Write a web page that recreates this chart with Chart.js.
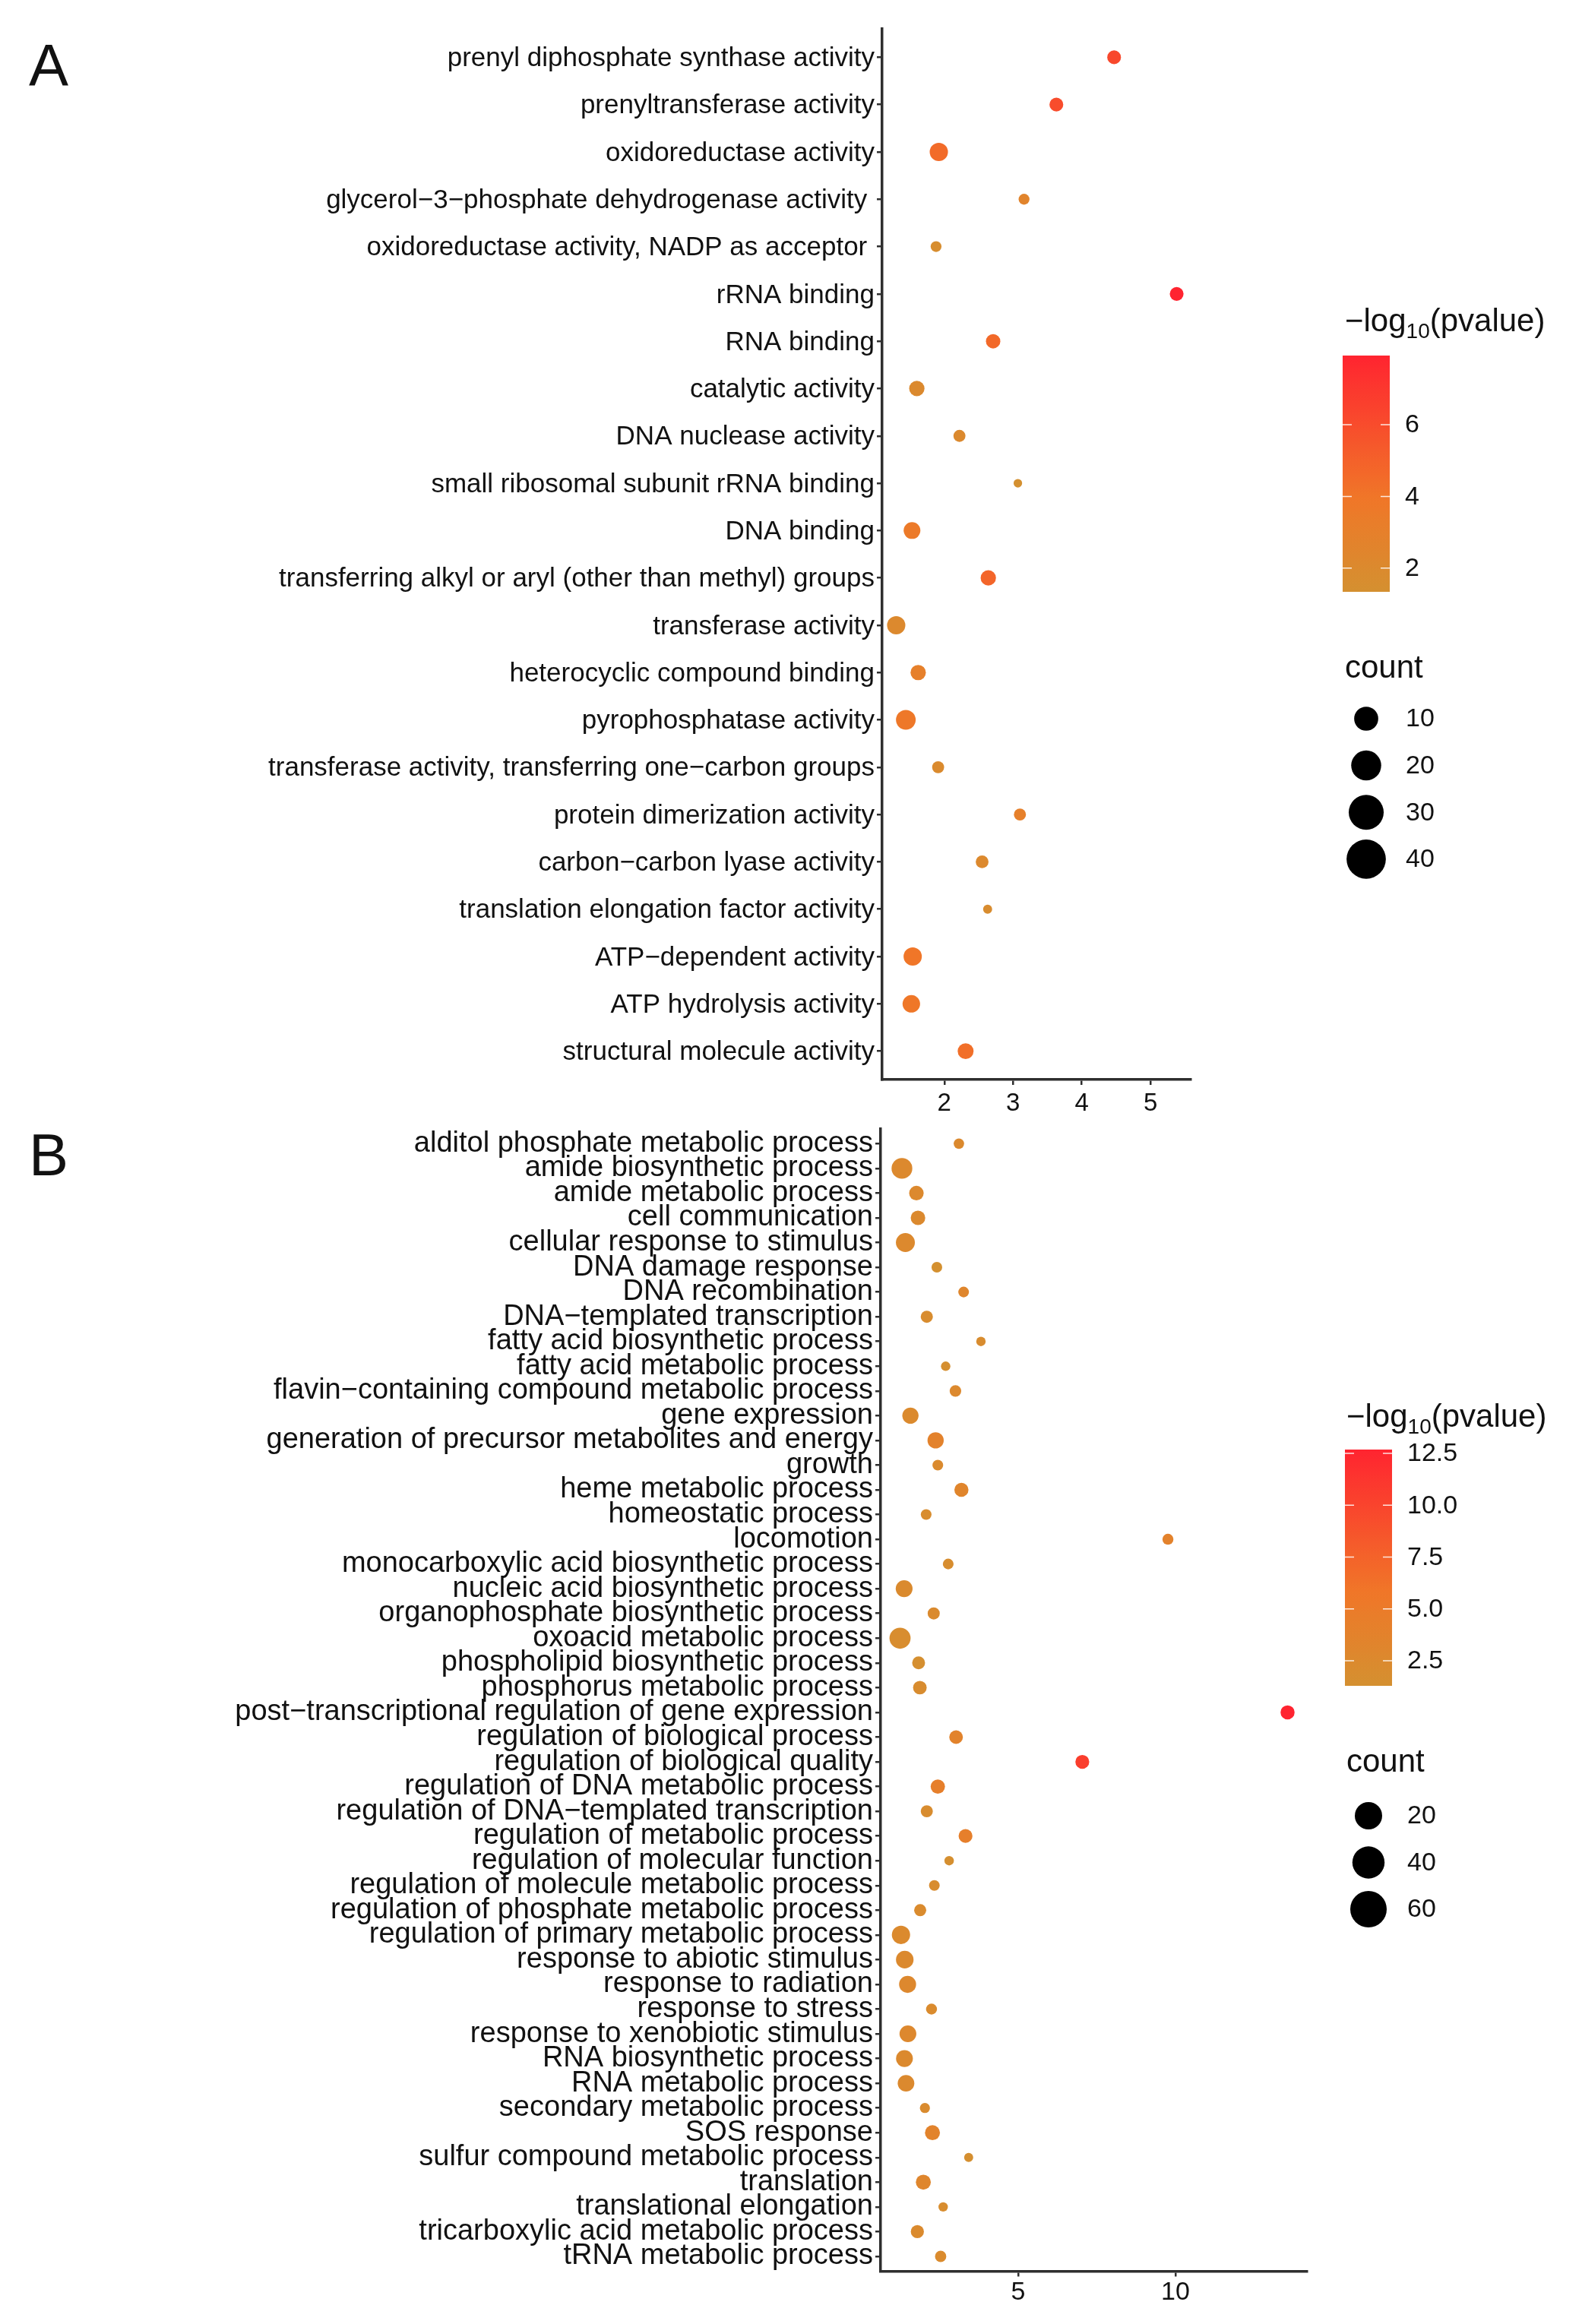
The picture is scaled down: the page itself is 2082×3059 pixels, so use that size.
<!DOCTYPE html>
<html>
<head>
<meta charset="utf-8">
<script src="https://cdn.jsdelivr.net/npm/chart.js@4.4.1/dist/chart.umd.min.js"></script>
<style>
  html, body { margin: 0; padding: 0; background: #fff; }
  #page { position: relative; width: 2082px; height: 3059px; overflow: hidden; }
  canvas { position: absolute; left: 0; }
  .tag { position: absolute; left: 38px; font-family: "Liberation Sans", Arial, sans-serif;
         font-size: 78px; font-weight: 300; line-height: 1; color: #111; }
</style>
</head>
<body>
<div id="page">
  <canvas id="chartA" width="2082" height="1475" style="top:0px"></canvas>
  <canvas id="chartB" width="2082" height="1599" style="top:1460px"></canvas>
  <div class="tag" style="top:47px">A</div>
  <div class="tag" style="top:1481px">B</div>
</div>
<script>
// ---- panel A : molecular function terms ----
const labelsA = [
  "prenyl diphosphate synthase activity",
  "prenyltransferase activity",
  "oxidoreductase activity",
  "glycerol\u22123\u2212phosphate dehydrogenase activity ",
  "oxidoreductase activity, NADP as acceptor ",
  "rRNA binding",
  "RNA binding",
  "catalytic activity",
  "DNA nuclease activity",
  "small ribosomal subunit rRNA binding",
  "DNA binding",
  "transferring alkyl or aryl (other than methyl) groups",
  "transferase activity",
  "heterocyclic compound binding",
  "pyrophosphatase activity",
  "transferase activity, transferring one\u2212carbon groups",
  "protein dimerization activity",
  "carbon\u2212carbon lyase activity",
  "translation elongation factor activity",
  "ATP\u2212dependent activity",
  "ATP hydrolysis activity",
  "structural molecule activity"
];
const enrichA = [4.47, 3.63, 1.92, 3.16, 1.88, 5.38, 2.71, 1.60, 2.22, 3.07, 1.53,
                 2.64, 1.30, 1.62, 1.44, 1.91, 3.10, 2.55, 2.63, 1.54, 1.52, 2.31];
const logpA = [6.2, 6.0, 4.5, 2.6, 1.6, 7.93, 4.6, 2.0, 2.0, 1.34, 3.6,
               4.8, 2.1, 3.0, 3.8, 1.9, 3.0, 2.1, 1.7, 4.0, 3.9, 4.3];
const countA = [17, 17, 33, 9, 9, 17, 19, 22, 12, 4, 27,
                22, 33, 22, 39, 12, 12, 14, 5, 33, 30, 24];
const xTicksA = [2, 3, 4, 5];
const barTicksA = [2, 4, 6];
const barLabelsA = ["2", "4", "6"];
const sizeBreaksA = [10, 20, 30, 40];

// ---- panel B : biological process terms ----
const labelsB = [
  "alditol phosphate metabolic process",
  "amide biosynthetic process",
  "amide metabolic process",
  "cell communication",
  "cellular response to stimulus",
  "DNA damage response",
  "DNA recombination",
  "DNA\u2212templated transcription",
  "fatty acid biosynthetic process",
  "fatty acid metabolic process",
  "flavin\u2212containing compound metabolic process",
  "gene expression",
  "generation of precursor metabolites and energy",
  "growth",
  "heme metabolic process",
  "homeostatic process",
  "locomotion",
  "monocarboxylic acid biosynthetic process",
  "nucleic acid biosynthetic process",
  "organophosphate biosynthetic process",
  "oxoacid metabolic process",
  "phospholipid biosynthetic process",
  "phosphorus metabolic process",
  "post\u2212transcriptional regulation of gene expression",
  "regulation of biological process",
  "regulation of biological quality",
  "regulation of DNA metabolic process",
  "regulation of DNA\u2212templated transcription",
  "regulation of metabolic process",
  "regulation of molecular function",
  "regulation of molecule metabolic process",
  "regulation of phosphate metabolic process",
  "regulation of primary metabolic process",
  "response to abiotic stimulus",
  "response to radiation",
  "response to stress",
  "response to xenobiotic stimulus",
  "RNA biosynthetic process",
  "RNA metabolic process",
  "secondary metabolic process",
  "SOS response",
  "sulfur compound metabolic process",
  "translation",
  "translational elongation",
  "tricarboxylic acid metabolic process",
  "tRNA metabolic process"
];
const enrichB = [3.12, 1.31, 1.77, 1.82, 1.42, 2.42, 3.27, 2.10, 3.82, 2.70,
                 3.01, 1.58, 2.38, 2.45, 3.20, 2.08, 9.76, 2.78, 1.38, 2.32,
                 1.25, 1.84, 1.88, 13.56, 3.03, 7.04, 2.45, 2.10, 3.33, 2.81,
                 2.34, 1.89, 1.28, 1.40, 1.49, 2.25, 1.50, 1.39, 1.44, 2.04,
                 2.28, 3.43, 1.99, 2.62, 1.80, 2.54];
const logpB = [2.5, 2.6, 2.6, 2.5, 2.6, 1.29, 3.0, 2.0, 2.0, 1.4,
               2.6, 2.4, 3.8, 2.3, 3.3, 1.9, 3.8, 1.8, 2.3, 2.3,
               1.9, 1.5, 2.0, 12.68, 3.5, 10.5, 4.2, 2.0, 4.2, 1.5,
               2.0, 2.2, 2.4, 2.5, 2.7, 2.2, 2.7, 2.5, 2.5, 2.1,
               3.5, 1.4, 3.0, 1.9, 2.3, 2.2];
const countB = [11, 61, 27, 27, 50, 12, 12, 17, 8, 8,
                15, 35, 35, 12, 25, 12, 13, 12, 38, 17,
                63, 20, 23, 25, 23, 24, 26, 17, 24, 8,
                12, 17, 46, 42, 39, 13, 38, 38, 37, 10,
                29, 7, 29, 8, 21, 14];
const xTicksB = [5, 10];
const barTicksB = [2.5, 5, 7.5, 10, 12.5];
const barLabelsB = ["2.5", "5.0", "7.5", "10.0", "12.5"];
const sizeBreaksB = [20, 40, 60];

const FONT = '"Liberation Sans", Arial, Helvetica, sans-serif';
const INK = "#111111";
const AXIS = "#2e2e2e";

// low -> high colour ramp for -log10(pvalue)
const colorStops = [
  [0, [212, 144, 48]],
  [0.4, [240, 118, 40]],
  [1, [255, 36, 48]]
];

function colorAt(t) {
  t = Math.max(0, Math.min(1, t));
  for (let i = 1; i < colorStops.length; i++) {
    const [t1, c1] = colorStops[i];
    const [t0, c0] = colorStops[i - 1];
    if (t <= t1) {
      const f = (t - t0) / (t1 - t0);
      const c = c0.map((v, k) => Math.round(v + (c1[k] - v) * f));
      return `rgb(${c[0]}, ${c[1]}, ${c[2]})`;
    }
  }
  return "rgb(255, 36, 48)";
}

// colour bar + size legend, drawn on the right of each panel
const sideLegend = {
  id: "sideLegend",
  afterDraw(chart, args, o) {
    const ctx = chart.ctx;
    ctx.save();
    ctx.fillStyle = INK;
    ctx.textAlign = "left";
    ctx.textBaseline = "alphabetic";

    // title: -log10(pvalue)
    let x = o.titleX;
    ctx.font = `42px ${FONT}`;
    ctx.fillText("\u2212log", x, o.titleY);
    x += ctx.measureText("\u2212log").width;
    ctx.font = `28px ${FONT}`;
    ctx.fillText("10", x, o.titleY + 9);
    x += ctx.measureText("10").width;
    ctx.font = `42px ${FONT}`;
    ctx.fillText("(pvalue)", x, o.titleY);

    // colour bar
    const h = o.barBottom - o.barTop;
    const grad = ctx.createLinearGradient(0, o.barBottom, 0, o.barTop);
    for (let i = 0; i <= 20; i++) grad.addColorStop(i / 20, colorAt(i / 20));
    ctx.fillStyle = grad;
    ctx.fillRect(o.barX, o.barTop, o.barW, h);

    const yOf = (v) => o.barBottom - ((v - o.min) / (o.max - o.min)) * h;
    ctx.strokeStyle = "rgba(255,255,255,0.85)";
    ctx.lineWidth = 1.5;
    ctx.font = `34px ${FONT}`;
    ctx.textBaseline = "middle";
    o.ticks.forEach((v, i) => {
      const y = yOf(v);
      ctx.beginPath();
      ctx.moveTo(o.barX, y);
      ctx.lineTo(o.barX + 12, y);
      ctx.moveTo(o.barX + o.barW - 12, y);
      ctx.lineTo(o.barX + o.barW, y);
      ctx.stroke();
      ctx.fillStyle = INK;
      ctx.fillText(o.tickLabels[i], o.barX + o.barW + 20, y + 1);
    });

    // size legend
    ctx.textBaseline = "alphabetic";
    ctx.font = `42px ${FONT}`;
    ctx.fillText("count", o.titleX, o.countY);
    ctx.font = `34px ${FONT}`;
    ctx.textBaseline = "middle";
    o.breaks.forEach((c, i) => {
      const y = o.dotTop + i * o.dotStep;
      ctx.fillStyle = "#000";
      ctx.beginPath();
      ctx.arc(o.dotX, y, o.keyRadius(c), 0, Math.PI * 2);
      ctx.fill();
      ctx.fillStyle = INK;
      ctx.fillText(String(c), o.labelX, y + 1);
    });
    ctx.restore();
  }
};

function makePanel(id, p) {
  const lo = Math.min(...p.enrich);
  const hi = Math.max(...p.enrich);
  const pad = (hi - lo) * 0.05;
  const cMin = Math.min(...p.logp);
  const cMax = Math.max(...p.logp);

  const points = p.labels.map((_, i) => ({
    x: p.enrich[i],
    y: i,
    r: p.radius(p.count[i])
  }));
  const colors = p.logp.map((v) => colorAt((v - cMin) / (cMax - cMin)));

  return new Chart(document.getElementById(id), {
    type: "bubble",
    data: {
      datasets: [{ data: points, backgroundColor: colors, borderWidth: 0, hoverBorderWidth: 0 }]
    },
    plugins: [sideLegend],
    options: {
      responsive: false,
      devicePixelRatio: 1,
      animation: false,
      events: [],
      layout: { padding: { top: p.padTop, right: p.padRight, left: 0, bottom: 0 } },
      plugins: {
        legend: { display: false },
        tooltip: { enabled: false },
        sideLegend: {
          titleX: p.leg.titleX, titleY: p.leg.titleY,
          barX: p.leg.barX, barW: 62, barTop: p.leg.barTop, barBottom: p.leg.barBottom,
          min: cMin, max: cMax, ticks: p.barTicks, tickLabels: p.barLabels,
          countY: p.leg.countY, breaks: p.breaks, dotX: p.leg.dotX, labelX: p.leg.labelX,
          dotTop: p.leg.dotTop, dotStep: p.leg.dotStep, keyRadius: p.keyRadius
        }
      },
      scales: {
        x: {
          type: "linear",
          min: lo - pad,
          max: hi + pad,
          afterBuildTicks: (s) => { s.ticks = p.xTicks.map((v) => ({ value: v })); },
          afterFit: (s) => { s.height = p.xHeight; },
          border: { display: true, color: AXIS, width: 3.5 },
          grid: { display: true, drawOnChartArea: false, drawTicks: true, tickLength: 7, color: AXIS, lineWidth: 2.5 },
          ticks: { color: INK, font: { family: FONT, size: p.xFont }, padding: p.xPad, maxRotation: 0 }
        },
        y: {
          type: "linear",
          reverse: true,
          min: -0.6,
          max: p.labels.length - 0.4,
          afterBuildTicks: (s) => { s.ticks = p.labels.map((_, i) => ({ value: i })); },
          afterFit: (s) => { s.width = p.yWidth; },
          border: { display: true, color: AXIS, width: 3.5 },
          grid: { display: true, drawOnChartArea: false, drawTicks: true, tickLength: 7, color: AXIS, lineWidth: 2.5 },
          ticks: {
            autoSkip: false,
            color: INK,
            padding: 3,
            labelOffset: p.yOffset,
            font: { family: FONT, size: p.yFont },
            callback: (v) => p.labels[v] ?? ""
          }
        }
      }
    }
  });
}

makePanel("chartA", {
  labels: labelsA, enrich: enrichA, logp: logpA, count: countA,
  xTicks: xTicksA, barTicks: barTicksA, barLabels: barLabelsA, breaks: sizeBreaksA,
  radius: (c) => Math.sqrt(16 + 3.9 * c),
  keyRadius: (c) => Math.sqrt(112 + 13.9 * c),
  padTop: 38, padRight: 2082 - 1567, xHeight: 54, yWidth: 1161,
  xFont: 33, xPad: 5, yFont: 35, yOffset: 2,
  leg: { titleX: 1770, titleY: 436, barX: 1767, barTop: 468, barBottom: 779,
         countY: 892, dotX: 1798, labelX: 1850, dotTop: 946, dotStep: 61.6 }
});

makePanel("chartB", {
  labels: labelsB, enrich: enrichB, logp: logpB, count: countB,
  xTicks: xTicksB, barTicks: barTicksB, barLabels: barLabelsB, breaks: sizeBreaksB,
  radius: (c) => Math.sqrt(16 + 2.8 * c),
  keyRadius: (c) => Math.sqrt(198 + 6.3 * c),
  padTop: 15, padRight: 2082 - 1720, xHeight: 69.5, yWidth: 1159,
  xFont: 34, xPad: 1, yFont: 38, yOffset: 0,
  leg: { titleX: 1772, titleY: 418, barX: 1770, barTop: 448, barBottom: 759,
         countY: 872, dotX: 1801, labelX: 1852, dotTop: 930, dotStep: 61.5 }
});
</script>
</body>
</html>
